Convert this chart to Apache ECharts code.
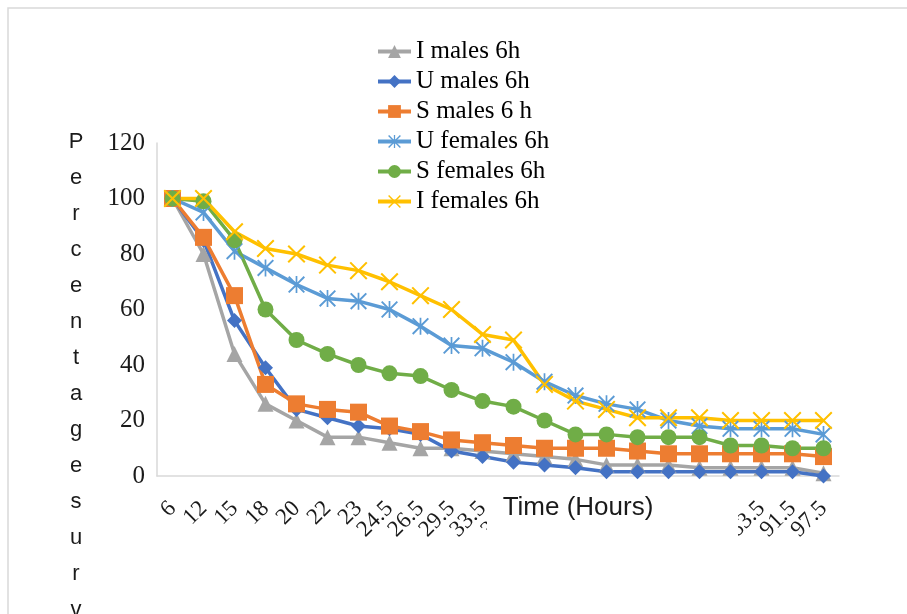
<!DOCTYPE html>
<html>
<head>
<meta charset="utf-8">
<script src="https://cdn.jsdelivr.net/npm/echarts@6/dist/echarts.min.js"></script>
<style>
  html, body { margin: 0; padding: 0; background: #ffffff; }
  #chart { width: 907px; height: 614px; }
</style>
</head>
<body>
<div id="chart"></div>
<script>
// Sampling times (hours) along the category axis
const hours = ['6', '12', '15', '18', '20', '22', '23', '24.5', '26.5', '29.5', '33.5',
  '36.5', '41.5', '45.5', '48.5', '52.5', '57.5', '65.5', '72.5', '83.5', '91.5', '97.5'];

// Percentage survival per group
const iMales6h   = [100, 80, 44, 26, 20, 14, 14, 12, 10, 10, 9, 8, 7, 6, 4, 4, 4, 3, 3, 3, 3, 1];
const uMales6h   = [100, 85, 56, 39, 24, 21, 18, 17, 15, 9, 7, 5, 4, 3, 1.5, 1.5, 1.5, 1.5, 1.5, 1.5, 1.5, 0];
const sMales6h   = [100, 86, 65, 33, 26, 24, 23, 18, 16, 13, 12, 11, 10, 10, 10, 9, 8, 8, 8, 8, 8, 7];
const uFemales6h = [100, 95, 81, 75, 69, 64, 63, 60, 54, 47, 46, 41, 34, 29, 26, 24, 20, 18, 17, 17, 17, 15];
const sFemales6h = [100, 99, 85, 60, 49, 44, 40, 37, 36, 31, 27, 25, 20, 15, 15, 14, 14, 14, 11, 11, 10, 10];
const iFemales6h = [100, 100, 88, 82, 80, 76, 74, 70, 65, 60, 51, 49, 33, 27, 24, 21, 21, 21, 20, 20, 20, 20];

const yTicks = { min: 0, max: 120, interval: 20 };
const xTitle = 'Time (Hours)';
const yTitle = 'Percentage survival';

// Marker outlines: a thin "x" and an asterisk (x with a vertical bar)
const crossPath = 'path://M0,8L8,0L50,42L92,0L100,8L58,50L100,92L92,100L50,58L8,100L0,92L42,50Z';
const starPath = crossPath + 'M45,0L55,0L55,100L45,100Z';

const serif = '"Liberation Serif", "Times New Roman", serif';
const sans = '"Liberation Sans", Arial, sans-serif';

function lineSeries(name, data, color, symbol, size) {
  return {
    name: name,
    type: 'line',
    data: data,
    symbol: symbol,
    symbolSize: size,
    showAllSymbol: true,
    lineStyle: { width: 3.5, color: color },
    itemStyle: { color: color },
    emphasis: { disabled: true }
  };
}

const chart = echarts.init(document.getElementById('chart'), null, { renderer: 'canvas' });

chart.setOption({
  animation: false,
  backgroundColor: '#ffffff',
  grid: { left: 157, right: 68, top: 143, bottom: 138, containLabel: false, outerBoundsMode: 'none' },
  legend: {
    orient: 'vertical',
    left: 376,
    top: 39,
    padding: 0,
    itemWidth: 33,
    itemHeight: 16,
    itemGap: 5,
    selectedMode: false,
    lineStyle: { width: 4 },
    textStyle: { fontFamily: serif, fontSize: 25, color: '#000000', lineHeight: 25 },
    data: ['I males 6h', 'U males 6h', 'S males 6 h', 'U females 6h', 'S females 6h', 'I females 6h']
  },
  xAxis: {
    type: 'category',
    data: hours,
    boundaryGap: true,
    axisLine: { show: true, lineStyle: { color: '#d9d9d9', width: 1.5 } },
    axisTick: { show: false },
    splitLine: { show: false },
    axisLabel: {
      interval: 0,
      rotate: 45,
      margin: 29,
      fontFamily: serif,
      fontSize: 23,
      color: '#1a1a1a'
    }
  },
  yAxis: {
    type: 'value',
    min: yTicks.min,
    max: yTicks.max,
    interval: yTicks.interval,
    axisLine: { show: true, lineStyle: { color: '#d9d9d9', width: 1.5 } },
    axisTick: { show: false },
    splitLine: { show: false },
    axisLabel: { margin: 12, fontFamily: serif, fontSize: 25, color: '#1a1a1a' }
  },
  series: [
    lineSeries('I males 6h', iMales6h, '#A5A5A5', 'triangle', 16),
    lineSeries('U males 6h', uMales6h, '#4472C4', 'diamond', 15),
    lineSeries('S males 6 h', sMales6h, '#ED7D31', 'rect', 17),
    lineSeries('U females 6h', uFemales6h, '#5B9BD5', starPath, 17),
    lineSeries('S females 6h', sFemales6h, '#70AD47', 'circle', 16),
    lineSeries('I females 6h', iFemales6h, '#FFC000', crossPath, 18)
  ],
  graphic: [
    {
      type: 'rect',
      silent: true,
      z: 1,
      shape: { x: 8, y: 8, width: 1000, height: 1000 },
      style: { fill: 'none', stroke: '#d9d9d9', lineWidth: 1.5 }
    },
    {
      // stacked (one letter per line) vertical axis title
      type: 'text',
      silent: true,
      z: 100,
      style: {
        text: yTitle.replace(/\s+/g, '').split('').join('\n'),
        x: 76,
        y: 124,
        textAlign: 'center',
        textVerticalAlign: 'top',
        font: '22px ' + sans,
        lineHeight: 36,
        fill: '#1a1a1a'
      }
    },
    {
      type: 'group',
      silent: true,
      z: 100,
      children: [
        {
          type: 'rect',
          z: 100,
          shape: { x: 487, y: 483, width: 251, height: 54 },
          style: { fill: '#ffffff' }
        },
        {
          type: 'text',
          z: 101,
          style: {
            text: xTitle,
            x: 578,
            y: 508,
            textAlign: 'center',
            textVerticalAlign: 'middle',
            font: '26px ' + sans,
            fill: '#1a1a1a'
          }
        }
      ]
    }
  ]
});
</script>
</body>
</html>
